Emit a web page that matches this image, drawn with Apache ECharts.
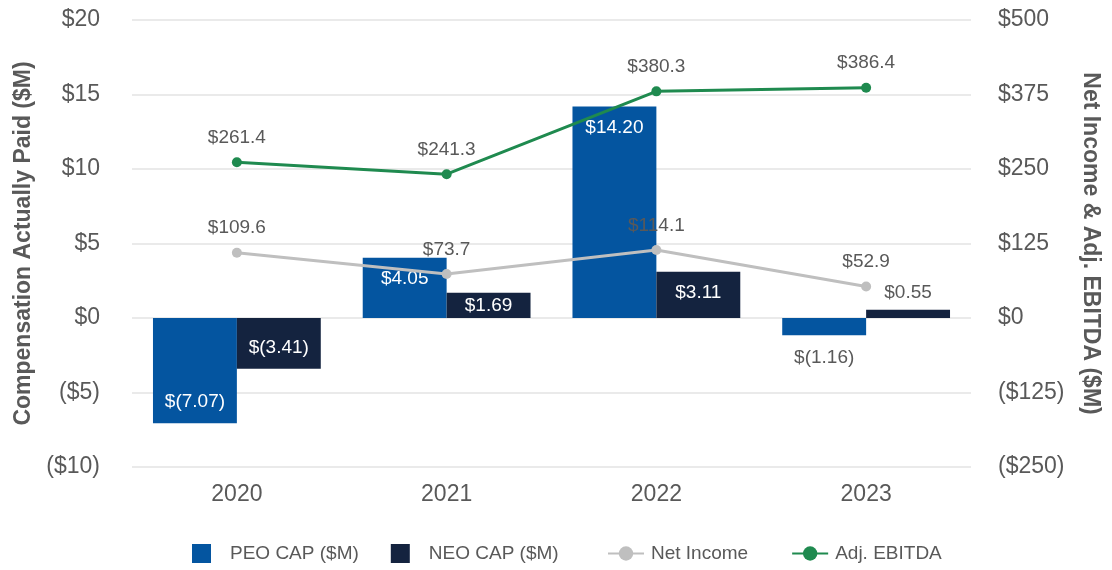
<!DOCTYPE html>
<html>
<head>
<meta charset="utf-8">
<script src="https://cdn.jsdelivr.net/npm/echarts@6/dist/echarts.min.js"></script>
<style>html,body{margin:0;padding:0;background:#fff;}#c{width:1112px;height:570px;}</style>
</head>
<body>
<div id="c"></div>
<script>
const categories = ['2020', '2021', '2022', '2023'];
const peoCap = [-7.07, 4.05, 14.20, -1.16];
const neoCap = [-3.41, 1.69, 3.11, 0.55];
const netIncome = [109.6, 73.7, 114.1, 52.9];
const adjEbitda = [261.4, 241.3, 380.3, 386.4];
const leftTicks = ['($10)', '($5)', '$0', '$5', '$10', '$15', '$20'];
const rightTicks = ['($250)', '($125)', '$0', '$125', '$250', '$375', '$500'];

const GRAY = '#595959';
const FONT = 'Liberation Sans, Arial, sans-serif';

function fmtBar(v) {
  return v < 0 ? '$(' + Math.abs(v).toFixed(2) + ')' : '$' + v.toFixed(2);
}
function barData(arr) {
  return arr.map(v => {
    const a = Math.abs(v);
    let label;
    if (a < 1.5) {
      label = { position: v < 0 ? 'bottom' : 'top', color: GRAY, distance: v < 0 ? 13 : 8 };
    } else if (a < 2.5) {
      label = { position: 'inside', color: '#fff' };
    } else {
      label = { position: v < 0 ? 'insideBottom' : 'insideTop', color: '#fff', distance: 12 };
    }
    return { value: v, label: label };
  });
}

const chart = echarts.init(document.getElementById('c'));
chart.setOption({
  animation: false,
  textStyle: { fontFamily: FONT },
  grid: { left: 132, right: 141, top: 20, bottom: 103, outerBoundsMode: 'none', containLabel: false },
  legend: [
    {
      bottom: 7,
      left: 192,
      padding: 0,
      itemGap: 32,
      itemWidth: 19,
      itemHeight: 19,
      icon: 'rect',
      textStyle: { color: GRAY, fontSize: 19, fontFamily: FONT, padding: [0, 0, 0, 14] },
      data: ['PEO CAP ($M)', 'NEO CAP ($M)']
    },
    {
      bottom: 7,
      left: 607,
      padding: 0,
      itemGap: 43,
      itemWidth: 36,
      itemHeight: 18,
      textStyle: { color: GRAY, fontSize: 19, fontFamily: FONT, padding: [0, 0, 0, 2] },
      data: ['Net Income', 'Adj. EBITDA']
    }
  ],
  xAxis: {
    type: 'category',
    data: categories,
    axisLine: { show: false },
    axisTick: { show: false },
    axisLabel: { color: GRAY, fontSize: 23, margin: 16 }
  },
  yAxis: [
    {
      type: 'value', min: -10, max: 20, interval: 5,
      name: 'Compensation Actually Paid ($M)',
      nameLocation: 'middle', nameGap: 97, nameRotate: 90,
      nameTextStyle: { color: GRAY, fontSize: 23, fontWeight: 'bold' },
      axisLabel: {
        color: GRAY, fontSize: 23, margin: 32,
        formatter: v => leftTicks[(v + 10) / 5]
      },
      splitLine: { lineStyle: { color: '#e3e3e3', width: 1.5 } },
      axisLine: { show: false }, axisTick: { show: false }
    },
    {
      type: 'value', min: -250, max: 500, interval: 125,
      position: 'right',
      name: 'Net Income & Adj. EBITDA ($M)',
      nameLocation: 'middle', nameGap: 108, nameRotate: -90,
      nameTextStyle: { color: GRAY, fontSize: 23, fontWeight: 'bold' },
      axisLabel: {
        color: GRAY, fontSize: 23, margin: 27,
        formatter: v => rightTicks[(v + 250) / 125]
      },
      splitLine: { show: false },
      axisLine: { show: false }, axisTick: { show: false }
    }
  ],
  series: [
    {
      name: 'PEO CAP ($M)', type: 'bar', yAxisIndex: 0,
      data: barData(peoCap),
      barWidth: '40%', barGap: '0%',
      itemStyle: { color: '#0455A0' },
      label: { show: true, fontSize: 19, formatter: p => fmtBar(p.value) }
    },
    {
      name: 'NEO CAP ($M)', type: 'bar', yAxisIndex: 0,
      data: barData(neoCap),
      barWidth: '40%', barGap: '0%',
      itemStyle: { color: '#14233F' },
      label: { show: true, fontSize: 19, formatter: p => fmtBar(p.value) }
    },
    {
      name: 'Net Income', type: 'line', yAxisIndex: 1,
      data: netIncome,
      symbol: 'circle', symbolSize: 10,
      lineStyle: { color: '#BFBFBF', width: 3 },
      itemStyle: { color: '#BFBFBF' },
      label: { show: true, position: 'top', distance: 10, color: GRAY, fontSize: 19,
        formatter: p => '$' + p.value.toFixed(1) }
    },
    {
      name: 'Adj. EBITDA', type: 'line', yAxisIndex: 1,
      data: adjEbitda,
      symbol: 'circle', symbolSize: 10,
      lineStyle: { color: '#1F8A4F', width: 3 },
      itemStyle: { color: '#1F8A4F' },
      label: { show: true, position: 'top', distance: 10, color: GRAY, fontSize: 19,
        formatter: p => '$' + p.value.toFixed(1) }
    }
  ]
});
</script>
</body>
</html>
